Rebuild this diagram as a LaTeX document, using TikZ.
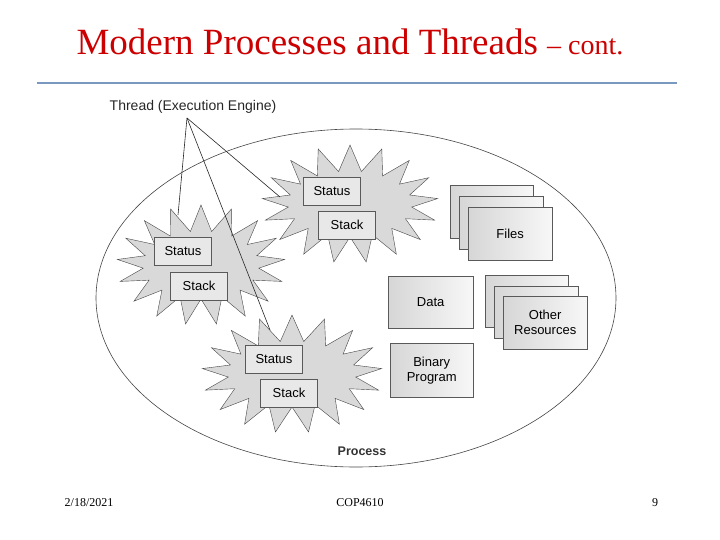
\documentclass[tikz,border=0pt]{standalone}
\usepackage{fontspec}
\setmainfont{Liberation Serif}
\setsansfont{Liberation Sans}
\usepackage{xcolor}
\definecolor{titlered}{RGB}{204,0,0}
\definecolor{rulblue}{RGB}{122,153,192}
\definecolor{inkgray}{RGB}{70,70,70}
\usetikzlibrary{shapes.symbols, shapes.geometric, positioning}

\begin{document}
\begin{tikzpicture}[x=1pt, y=-1pt,
  burst/.style={starburst, random starburst=0, starburst points=17, starburst point height=26pt,
      draw=inkgray, fill=gray!30, inner sep=0pt},
  tbox/.style={draw=gray!70!black, fill=gray!18, minimum width=57pt, minimum height=28pt,
      inner sep=0pt, font=\sffamily\fontsize{13}{14}\selectfont},
  card/.style={draw=gray!70!black, left color=gray!32, right color=gray!6,
      inner sep=0pt, anchor=north west, align=center,
      font=\sffamily\fontsize{13}{15}\selectfont},
  wire/.style={draw=black!85, line width=0.6pt}]

\useasboundingbox (0,0) rectangle (720,540);

% Title and rule
\node[titlered, anchor=base] (title) at (350,55)
  {\fontsize{37}{40}\selectfont Modern Processes and Threads \fontsize{28}{30}\selectfont -- cont.};
\draw[rulblue, line width=2pt] (37,83) -- (677,83);

% --- Process ---
\node[draw=inkgray, fill=white, ellipse, minimum width=520pt, minimum height=338pt,
      inner sep=0pt, line width=0.6pt] (proc) at (356,298) {};
\node[font=\sffamily\bfseries\fontsize{12.5}{14}\selectfont, black!80] (plab) at (362,451) {Process};

% --- Threads (bursts) ---
\node[burst, shape border rotate=4, minimum width=176pt, minimum height=118pt] (thrA) at (350,204) {};
\node[burst, shape border rotate=-6, minimum width=168pt, minimum height=120pt] (thrB) at (201,265) {};
\node[burst, shape border rotate=9, minimum width=180pt, minimum height=118pt] (thrC) at (292,374) {};

\node[tbox] (statA) at (332,191) {Status};
\node[tbox] (stackA) at (347,225) {Stack};
\node[tbox] (statB) at (183,251) {Status};
\node[tbox] (stackB) at (199,286) {Stack};
\node[tbox] (statC) at (274,359) {Status};
\node[tbox] (stackC) at (289,393) {Stack};

% --- Shared resources ---
\node[card, minimum width=83pt, minimum height=53pt] (files1) at (450,185) {};
\node[card, minimum width=84pt, minimum height=53pt] (files2) at (459,196) {};
\node[card, minimum width=84pt, minimum height=53pt] (files3) at (468,207) {Files};

\node[card, minimum width=85pt, minimum height=52pt] (data) at (388,276) {Data};
\node[card, minimum width=83pt, minimum height=54pt] (prog) at (390,343) {Binary\\Program};

\node[card, minimum width=83pt, minimum height=52pt] (other1) at (485,275) {};
\node[card, minimum width=84pt, minimum height=52pt] (other2) at (494,286) {};
\node[card, minimum width=84pt, minimum height=53pt] (other3) at (503,296) {Other\\Resources};

% Thread label and pointers
\node[font=\sffamily\fontsize{14}{16}\selectfont, black!85] (thr) at (193,107) {Thread (Execution Engine)};
\coordinate (tip) at (187,118);
\coordinate (endA) at (280,197);
\coordinate (endB) at (178,215);
\coordinate (endC) at (270,330);
\draw[wire] (tip) -- (endA);
\draw[wire] (tip) -- (endB);
\draw[wire] (tip) -- (endC);

% Footer
\node[font=\fontsize{12}{14}\selectfont] (date) at (89,503) {2/18/2021};
\node[font=\fontsize{12}{14}\selectfont] (course) at (360,503) {COP4610};
\node[font=\fontsize{12}{14}\selectfont] (page) at (655,503) {9};

\end{tikzpicture}
\end{document}
